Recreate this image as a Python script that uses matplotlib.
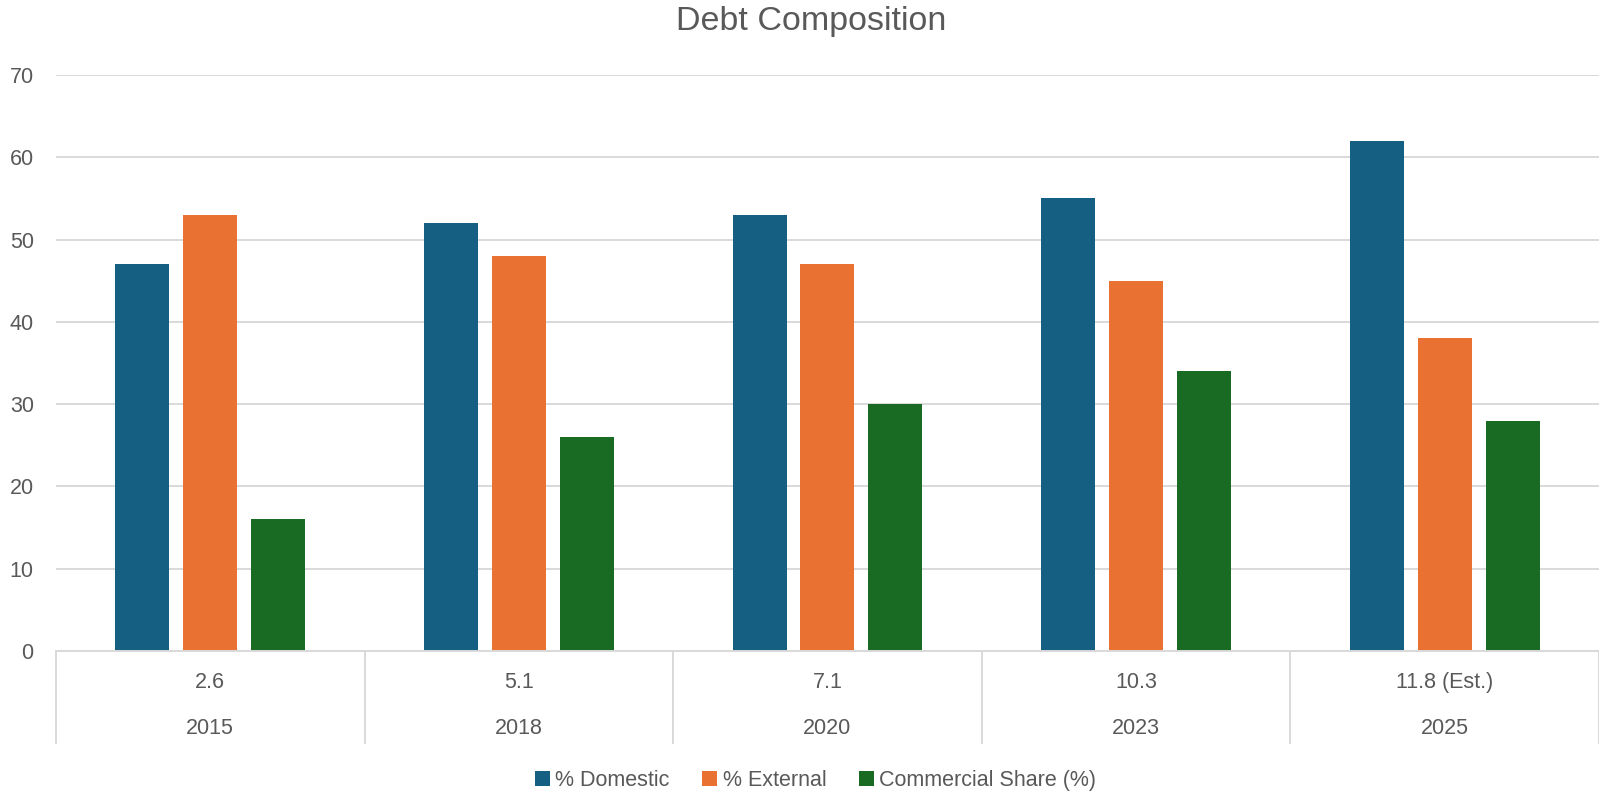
import matplotlib
matplotlib.use("Agg")
import matplotlib.pyplot as plt
import numpy as np
from matplotlib.patches import Patch

# data
years = ["2015", "2018", "2020", "2023", "2025"]
debt_levels = ["2.6", "5.1", "7.1", "10.3", "11.8 (Est.)"]
domestic = [47, 52, 53, 55, 62]
external = [53, 48, 47, 45, 38]
commercial = [16, 26, 30, 34, 28]

series = [
    ("% Domestic", domestic, "#156082"),
    ("% External", external, "#E97132"),
    ("Commercial Share (%)", commercial, "#196B24"),
]

TXT = "#595959"
GRID = "#D9D9D9"
FS = 15.5
plt.rcParams["font.family"] = ["Liberation Sans", "DejaVu Sans"]

fig = plt.figure(figsize=(15.99, 7.96), dpi=100)
ax = fig.add_axes([0.035, 0.1822, 0.965, 0.7236])

x = np.arange(len(years))
step, width = 0.22, 0.175
for i, (name, vals, col) in enumerate(series):
    ax.bar(x + (i - 1) * step, vals, width, color=col, label=name, zorder=2)

ax.set_xlim(-0.5, len(years) - 0.5)
ax.set_ylim(0, 70)
ax.set_yticks(range(0, 71, 10))
ax.yaxis.grid(True, color=GRID, lw=1.4, zorder=0)
ax.tick_params(axis="y", length=0, pad=16, labelsize=FS, labelcolor=TXT)
ax.set_xticks([])
for s in ["top", "right", "left"]:
    ax.spines[s].set_visible(False)
ax.spines["bottom"].set_color(GRID)
ax.spines["bottom"].set_linewidth(1.4)

# two-level category axis (Excel style)
trans = ax.get_xaxis_transform()
for b in np.arange(len(years) + 1) - 0.5:
    ax.plot([b, b], [0, -0.16], transform=trans, color=GRID, lw=1.4, clip_on=False)
for xi, lvl, yr in zip(x, debt_levels, years):
    ax.text(xi, -0.054, lvl, transform=trans, ha="center", va="center",
            fontsize=FS, color=TXT)
    ax.text(xi, -0.134, yr, transform=trans, ha="center", va="center",
            fontsize=FS, color=TXT)

fig.text(0.507, 0.973, "Debt Composition", ha="center", va="center",
         fontsize=24.5, color=TXT)

handles = [Patch(facecolor=c, label=n) for n, _, c in series]
fig.legend(handles=handles, loc="center", bbox_to_anchor=(0.51, 0.02), ncol=3,
           frameon=False, fontsize=FS, labelcolor=TXT, handlelength=0.7,
           handleheight=0.7, handletextpad=0.25, columnspacing=1.5)

fig.savefig("out.png", dpi=100)
